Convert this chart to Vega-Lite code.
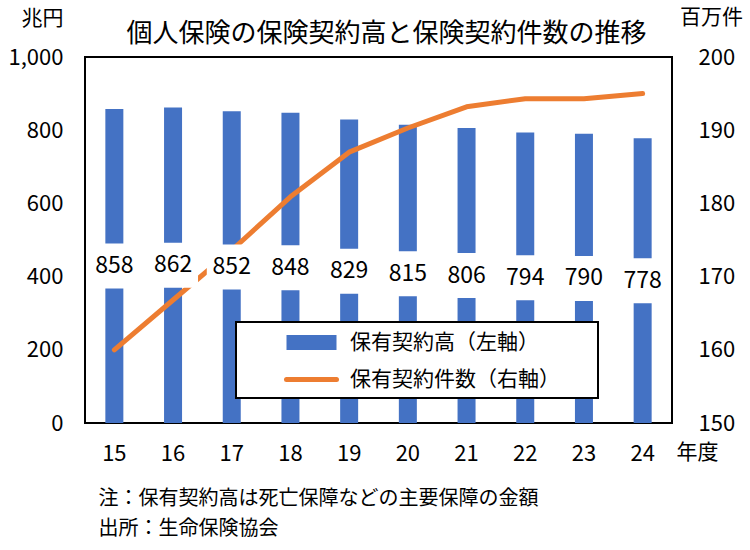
{
  "$schema": "https://vega.github.io/schema/vega-lite/v6.json",
  "autosize": {"type": "none"},
  "padding": {"left": 85, "top": 57, "right": 78, "bottom": 127},
  "width": 587,
  "height": 366,
  "background": "white",
  "data": {
    "values": [
      {"year": "15", "amount": 858, "count": 160.0},
      {"year": "16", "amount": 862, "count": 166.8},
      {"year": "17", "amount": 852, "count": 173.6},
      {"year": "18", "amount": 848, "count": 180.9},
      {"year": "19", "amount": 829, "count": 187.0},
      {"year": "20", "amount": 815, "count": 190.3},
      {"year": "21", "amount": 806, "count": 193.2},
      {"year": "22", "amount": 794, "count": 194.3},
      {"year": "23", "amount": 790, "count": 194.3},
      {"year": "24", "amount": 778, "count": 195.0}
    ]
  },
  "title": {
    "text": "個人保険の保険契約高と保険契約件数の推移",
    "font": "Noto Sans CJK JP",
    "fontSize": 26,
    "fontWeight": "normal",
    "color": "black",
    "anchor": "middle",
    "frame": "group",
    "dx": 8,
    "offset": -41
  },
  "layer": [
    {
      "mark": {"type": "bar", "width": 18, "color": "#4472C4"},
      "encoding": {
        "x": {
          "field": "year",
          "type": "ordinal",
          "scale": {"type": "band", "paddingInner": 0, "paddingOuter": 0},
          "axis": {
            "orient": "bottom",
            "labelAngle": 0,
            "labelBaseline": "middle",
            "labelPadding": 30,
            "title": ["注：保有契約高は死亡保障などの主要保障の金額", "出所：生命保険協会"],
            "titleAnchor": "start",
            "titleAlign": "left",
            "titleBaseline": "middle",
            "titleX": 13,
            "titleY": 75,
            "titleFontSize": 20,
            "titleLineHeight": 30
          }
        },
        "y": {
          "field": "amount",
          "type": "quantitative",
          "scale": {"domain": [0, 1000]},
          "axis": {
            "orient": "left",
            "values": [0, 200, 400, 600, 800, 1000],
            "format": ",d",
            "labelPadding": 22,
            "title": "兆円",
            "titleAngle": 0,
            "titleAlign": "center",
            "titleBaseline": "middle",
            "titleX": -43,
            "titleY": -39
          }
        },
        "color": {
          "datum": "保有契約高（左軸）",
          "type": "nominal",
          "scale": {
            "domain": ["保有契約高（左軸）", "保有契約件数（右軸）"],
            "range": ["#4472C4", "#ED7D31"]
          },
          "legend": {
            "orient": "none",
            "legendX": 151,
            "legendY": 265,
            "title": null,
            "padding": 8,
            "symbolOffset": 55,
            "labelOffset": 26,
            "rowPadding": 9,
            "symbolSize": 400,
            "labelLimit": 400,
            "encode": {
              "legend": {"update": {"strokeWidth": {"value": 2}}},
              "labels": {
                "update": {
                  "text": {"signal": "datum.label + '\u2800\u2800'"}
                }
              },
              "symbols": {
                "update": {
                  "shape": {"signal": "datum.value == '保有契約高（左軸）' ? 'M-2.25,-0.5H2.25V0.5H-2.25Z' : 'M-2.5,0H2.5'"},
                  "fill": {"signal": "datum.value == '保有契約高（左軸）' ? '#4472C4' : 'transparent'"},
                  "stroke": {"signal": "datum.value == '保有契約高（左軸）' ? '#4472C4' : '#ED7D31'"},
                  "strokeWidth": {"value": 5},
                  "strokeCap": {"value": "round"},
                  "opacity": {"value": 1}
                }
              }
            }
          }
        }
      }
    },
    {
      "mark": {"type": "line", "strokeWidth": 5, "strokeCap": "round", "strokeJoin": "round"},
      "encoding": {
        "x": {
          "field": "year",
          "type": "ordinal",
          "scale": {"type": "band", "paddingInner": 0, "paddingOuter": 0},
          "bandPosition": 0.5,
          "axis": {
            "orient": "top",
            "labels": false,
            "title": "年度",
            "titleAlign": "center",
            "titleBaseline": "middle",
            "titleX": 612,
            "titleY": 395,
            "titleFontSize": 21
          }
        },
        "y": {
          "field": "count",
          "type": "quantitative",
          "scale": {"domain": [150, 200]},
          "axis": {
            "orient": "right",
            "values": [150, 160, 170, 180, 190, 200],
            "format": "d",
            "labelPadding": 26,
            "title": "百万件",
            "titleAngle": 0,
            "titleAlign": "center",
            "titleBaseline": "middle",
            "titleX": 39,
            "titleY": -40
          }
        },
        "color": {"datum": "保有契約件数（右軸）", "type": "nominal"}
      }
    },
    {
      "mark": {
        "type": "point",
        "filled": true,
        "shape": "M-1.11,-1H1.11V1H-1.11Z",
        "size": 2025,
        "color": "white",
        "opacity": 1,
        "strokeWidth": 0
      },
      "encoding": {
        "x": {
          "field": "year",
          "type": "ordinal",
          "scale": {"type": "band", "paddingInner": 0, "paddingOuter": 0},
          "bandPosition": 0.5,
          "axis": null
        },
        "y": {
          "field": "amount",
          "type": "quantitative",
          "scale": {"domain": [0, 2000]},
          "axis": null
        }
      }
    },
    {
      "mark": {"type": "text", "fontSize": 23, "font": "Noto Sans CJK JP", "color": "black", "baseline": "middle", "align": "center"},
      "encoding": {
        "x": {
          "field": "year",
          "type": "ordinal",
          "scale": {"type": "band", "paddingInner": 0, "paddingOuter": 0},
          "bandPosition": 0.5,
          "axis": null
        },
        "y": {
          "field": "amount",
          "type": "quantitative",
          "scale": {"domain": [0, 2000]},
          "axis": null
        },
        "text": {"field": "amount", "type": "quantitative"}
      }
    }
  ],
  "resolve": {
    "scale": {"y": "independent"},
    "axis": {"x": "independent", "y": "independent"}
  },
  "view": {"stroke": "black", "strokeWidth": 2},
  "config": {
    "font": "Noto Sans CJK JP",
    "axis": {
      "labelFont": "Noto Sans CJK JP",
      "labelFontSize": 22,
      "labelColor": "black",
      "titleFont": "Noto Sans CJK JP",
      "titleFontSize": 21,
      "titleFontWeight": "normal",
      "titleColor": "black",
      "ticks": false,
      "domain": false,
      "grid": false
    },
    "legend": {
      "labelFont": "Noto Sans CJK JP",
      "labelFontSize": 21,
      "labelColor": "black",
      "strokeColor": "black",
      "fillColor": "white"
    }
  }
}
